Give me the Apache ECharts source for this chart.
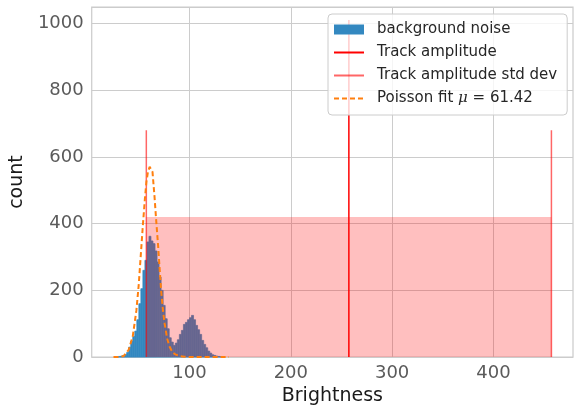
<!DOCTYPE html>
<html><head><meta charset="utf-8">
<script src="https://cdn.jsdelivr.net/npm/echarts@6/dist/echarts.min.js"></script>
<style>html,body{margin:0;padding:0;background:#fff}#c{width:576px;height:411px}</style>
</head><body><div id="c"></div>
<script>
// ---- data ----
const binStart = [28,30,32,34,36,38,40,42,44,46,48,50,52,54,56,58,60,62,64,66,68,70,72,74,76,78,80,82,84,86,88,90,92,94,96,98,100,102,104,106,108,110,112,114,116,118,120,122,124,126,128,130,132];
const binEnd   = [30,32,34,36,38,40,42,44,46,48,50,52,54,56,58,60,62,64,66,68,70,72,74,76,78,80,82,84,86,88,90,92,94,96,98,100,102,104,106,108,110,112,114,116,118,120,122,124,126,128,130,132,134];
const counts   = [1,2,3,5,8,14,30,48,62,78,112,160,205,260,290,345,362,348,340,318,285,240,200,155,115,85,58,45,35,42,52,68,80,98,104,112,118,125,112,95,82,68,50,38,28,18,12,7,5,3,2,1,1];

const poissonX = [25,30,35,40,44,47.6,50,51,54,56,57.5,59,60.7,62,63.5,65.5,67,69,71,72,74,75.5,78,80.5,83,85.5,90,95,105,139];
const poissonY = [0,0.5,3,22,62,140,220,265,395,475,525,555,570,572,555,480,415,335,245,200,135,100,55,30,16,9,3,1,0,0];

const trackAmp = 257.3;
const trackAmpTop = 1010;
const stdLow = 57.4;
const stdHigh = 457.2;
const stdTop = 680;
const shadeTop = 420;

const xTicks = [100, 200, 300, 400];
const yTicks = [0, 200, 400, 600, 800, 1000];
const poissonName = 'Poisson fit μ = 61.42';

// ---- chart ----
const chart = echarts.init(document.getElementById('c'), null, {renderer: 'canvas'});
const BLUE = '#3388c0';

function rectItem(color, stroke) {
  return function (params, api) {
    const p0 = api.coord([api.value(0), api.value(2)]);
    const p1 = api.coord([api.value(1), 0]);
    const style = {fill: color};
    if (stroke) { style.stroke = color; style.lineWidth = 0.7; }
    return {type: 'rect', shape: {x: p0[0], y: p0[1], width: p1[0] - p0[0], height: p1[1] - p0[1]},
            style: style};
  };
}

const histData = binStart.map((s, i) => [s, binEnd[i], counts[i]]);
const noSymbol = {opacity: 0};

chart.setOption({
  animation: false,
  backgroundColor: '#fff',
  textStyle: {fontFamily: 'DejaVu Sans'},
  grid: {left: 88, right: 3, top: 7, bottom: 51, show: true, borderColor: '#cccccc', borderWidth: 1.25, containLabel: false},
  xAxis: {
    type: 'value', min: 3.5, max: 478.5,
    name: 'Brightness', nameLocation: 'middle', nameGap: 29,
    nameTextStyle: {fontSize: 19, color: '#1a1a1a', fontFamily: 'DejaVu Sans'},
    axisLine: {show: false},
    axisTick: {show: false, customValues: xTicks},
    axisLabel: {customValues: xTicks, fontSize: 18, color: '#5a5a5a', margin: 7, fontFamily: 'DejaVu Sans'},
    splitLine: {show: true, lineStyle: {color: '#cccccc', width: 1}}
  },
  yAxis: {
    type: 'value', min: 0, max: 1049, interval: 200,
    name: 'count', nameLocation: 'middle', nameGap: 59, nameRotate: 90,
    nameTextStyle: {fontSize: 19, color: '#1a1a1a', fontFamily: 'DejaVu Sans'},
    axisLine: {show: false}, axisTick: {show: false},
    axisLabel: {fontSize: 18, color: '#5a5a5a', margin: 8, fontFamily: 'DejaVu Sans',
      formatter: function (v) { return yTicks.indexOf(v) >= 0 ? String(v) : ''; }},
    splitLine: {show: true, lineStyle: {color: '#cccccc', width: 1}}
  },
  legend: {
    orient: 'vertical', left: 328, top: 14,
    padding: [8, 10, 9, 5], itemGap: 8, itemWidth: 30, itemHeight: 10,
    backgroundColor: 'rgba(255,255,255,0.8)', borderColor: '#cccccc', borderWidth: 1, borderRadius: 4,
    textStyle: {fontSize: 15, color: '#262626', padding: [0, 0, 0, 8], fontFamily: 'DejaVu Sans',
      rich: {a: {fontSize: 15, color: '#262626', fontFamily: 'DejaVu Sans'},
             m: {fontSize: 15, color: '#262626', fontStyle: 'italic', fontFamily: 'DejaVu Serif'}}},
    formatter: function (name) {
      if (name === poissonName) return '{a|Poisson fit }{m|μ}{a| = 61.42}';
      return name;
    },
    data: [
      {name: 'background noise', icon: 'rect', itemStyle: {color: BLUE}},
      {name: 'Track amplitude', itemStyle: noSymbol},
      {name: 'Track amplitude std dev', itemStyle: noSymbol},
      {name: poissonName, itemStyle: noSymbol}
    ]
  },
  series: [
    {name: 'background noise', type: 'custom', renderItem: rectItem(BLUE, true), data: histData,
     encode: {x: [0, 1], y: 2}, itemStyle: {color: BLUE}, z: 1, silent: true},
    {name: 'shade', type: 'custom', renderItem: rectItem('rgba(255,0,0,0.25)', false), data: [[stdLow, stdHigh, shadeTop]],
     encode: {x: [0, 1], y: 2}, z: 2, silent: true},
    {name: 'Track amplitude', type: 'line', symbol: 'none', data: [[trackAmp, 0], [trackAmp, trackAmpTop]],
     lineStyle: {color: '#ff0000', width: 1.5}, itemStyle: {color: '#ff0000'}, z: 3},
    {name: 'Track amplitude std dev', type: 'line', symbol: 'none', data: [[stdLow, 0], [stdLow, stdTop]],
     lineStyle: {color: 'rgba(255,0,0,0.6)', width: 1.5}, itemStyle: {color: 'rgba(255,0,0,0.6)'}, z: 3},
    {name: 'Track amplitude std dev', type: 'line', symbol: 'none', data: [[stdHigh, 0], [stdHigh, stdTop]],
     lineStyle: {color: 'rgba(255,0,0,0.6)', width: 1.5}, itemStyle: {color: 'rgba(255,0,0,0.6)'}, z: 3},
    {name: poissonName, type: 'line', symbol: 'none', data: poissonX.map((x, i) => [x, poissonY[i]]),
     lineStyle: {color: '#ff7f0e', width: 2, type: [5, 3]}, itemStyle: {color: '#ff7f0e'}, z: 4}
  ]
});
</script>
</body></html>
